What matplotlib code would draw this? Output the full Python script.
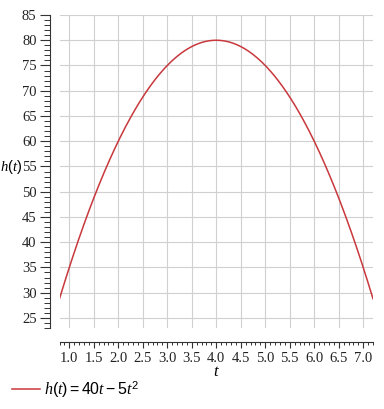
import numpy as np
import matplotlib
matplotlib.use('Agg')
import matplotlib.pyplot as plt
from matplotlib.ticker import MultipleLocator, FormatStrFormatter

# h(t) = 40t - 5t^2 sampled over the shown range
t = np.linspace(0.8, 7.2, 300)
h = 40 * t - 5 * t ** 2

x_range = [0.8, 7.2]
y_range = [23, 85]

plt.rcParams['font.family'] = 'Liberation Serif'
plt.rcParams['mathtext.fontset'] = 'custom'
plt.rcParams['mathtext.rm'] = 'Liberation Sans'
plt.rcParams['mathtext.it'] = 'Liberation Serif:italic'

fig = plt.figure(figsize=(3.84, 4.09), dpi=100)
ax = fig.add_axes([59.5 / 384, 1 - 328 / 409, (373 - 59.5) / 384, (328 - 15) / 409])

line, = ax.plot(t, h, color='#c8383c', lw=1.1)

ax.set_xlim(x_range)
ax.set_ylim(y_range)

ax.spines['top'].set_visible(False)
ax.spines['right'].set_visible(False)
ax.spines['left'].set_position(('outward', 7))
ax.spines['bottom'].set_position(('outward', 10))
for s in ['left', 'bottom']:
    ax.spines[s].set_color('#333333')
    ax.spines[s].set_linewidth(0.8)

ax.xaxis.set_major_locator(MultipleLocator(0.5))
ax.xaxis.set_minor_locator(MultipleLocator(0.1))
ax.yaxis.set_major_locator(MultipleLocator(5))
ax.yaxis.set_minor_locator(MultipleLocator(1))
ax.xaxis.set_major_formatter(FormatStrFormatter('%.1f'))

ax.tick_params(which='both', color='#333333', labelsize=10.5, labelcolor='#222222')
ax.tick_params(axis='x', which='major', length=4, width=0.8, pad=3)
ax.tick_params(axis='x', which='minor', length=2.2, width=0.7)
ax.tick_params(axis='y', which='major', length=7.5, width=0.8, pad=2)
ax.tick_params(axis='y', which='minor', length=4, width=0.7)

ax.grid(True, which='major', color='#d0d0d0', lw=0.8)
ax.set_axisbelow(True)

ax.set_xlabel('$t$', fontsize=12, va='center')
ax.xaxis.set_label_coords(0.5, -0.14)
ax.set_ylabel('$h(t)$', fontsize=10.5, rotation=0, ha='center', va='center')
ax.yaxis.set_label_coords(-0.153, 0.514)

fig.legend([line], ['$h(t)=40t-5t^2$'], loc='center left',
           bbox_to_anchor=(-0.005, 1 - 389 / 409), frameon=False, fontsize=11.5,
           handlelength=1.7, handletextpad=0.3)

fig.savefig('out.png', dpi=100)
